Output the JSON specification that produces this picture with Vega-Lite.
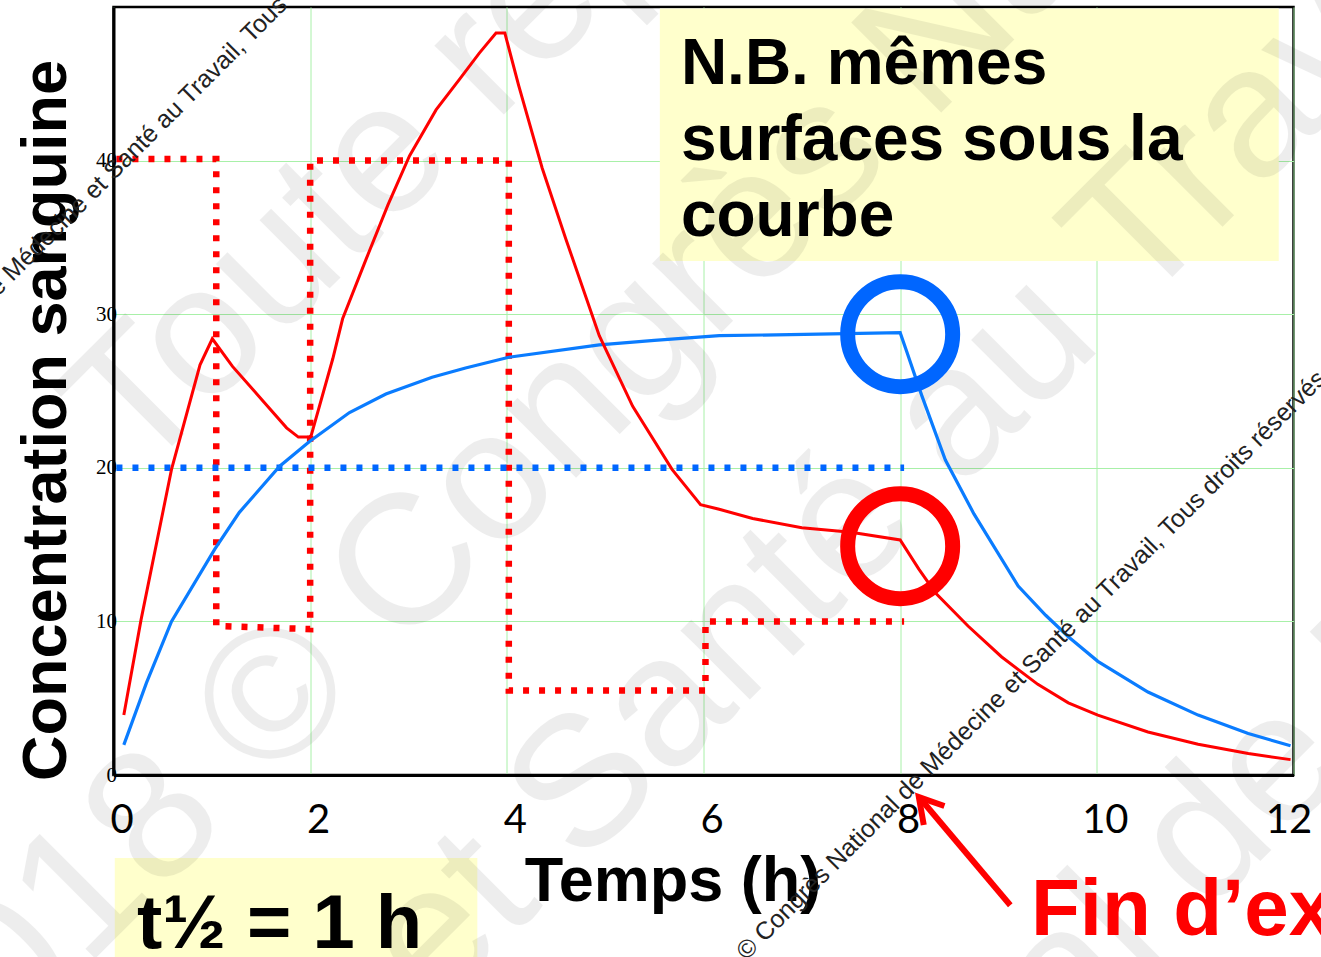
{
  "$schema": "https://vega.github.io/schema/vega-lite/v6.json",
  "width": 1180,
  "height": 768,
  "autosize": {"type": "none"},
  "padding": {"left": 113.5, "top": 7, "right": 27.5, "bottom": 182},
  "background": "white",
  "config": {
    "view": {"stroke": "#000", "strokeWidth": 2.5},
    "axis": {"gridColor": "#a8f0a8", "gridWidth": 1, "gridOpacity": 1, "domainColor": "#000", "domainWidth": 3, "ticks": false, "tickSize": 0}
  },
  "datasets": {
    "redCurve": [
      {"t": 0.105, "c": 3.9}, {"t": 0.28, "c": 10.1}, {"t": 0.59, "c": 19.9}, {"t": 0.88, "c": 26.7},
      {"t": 1.005, "c": 28.4}, {"t": 1.21, "c": 26.6}, {"t": 1.52, "c": 24.35}, {"t": 1.76, "c": 22.6},
      {"t": 1.88, "c": 22.0}, {"t": 1.99, "c": 22.0}, {"t": 2.01, "c": 22.1}, {"t": 2.23, "c": 27.1},
      {"t": 2.33, "c": 29.7}, {"t": 2.57, "c": 33.6}, {"t": 2.79, "c": 37.1}, {"t": 3.01, "c": 40.3},
      {"t": 3.28, "c": 43.3}, {"t": 3.52, "c": 45.3}, {"t": 3.72, "c": 47.0}, {"t": 3.89, "c": 48.3},
      {"t": 3.98, "c": 48.3}, {"t": 4.12, "c": 44.9}, {"t": 4.36, "c": 39.5}, {"t": 4.6, "c": 34.9},
      {"t": 4.94, "c": 28.6}, {"t": 5.28, "c": 24.0}, {"t": 5.68, "c": 19.9}, {"t": 5.97, "c": 17.6},
      {"t": 6.16, "c": 17.3}, {"t": 6.5, "c": 16.7}, {"t": 7.0, "c": 16.1}, {"t": 7.5, "c": 15.8},
      {"t": 8.0, "c": 15.3}, {"t": 8.19, "c": 13.4}, {"t": 8.36, "c": 11.85}, {"t": 8.69, "c": 9.7},
      {"t": 9.03, "c": 7.7}, {"t": 9.4, "c": 5.9}, {"t": 9.71, "c": 4.7}, {"t": 10.01, "c": 3.9},
      {"t": 10.52, "c": 2.8}, {"t": 11.03, "c": 2.0}, {"t": 11.54, "c": 1.4}, {"t": 11.97, "c": 1.0}
    ],
    "blueCurve": [
      {"t": 0.105, "c": 1.96}, {"t": 0.335, "c": 6.0}, {"t": 0.59, "c": 10.0}, {"t": 1.03, "c": 14.7},
      {"t": 1.28, "c": 17.1}, {"t": 1.69, "c": 20.1}, {"t": 1.99, "c": 21.7}, {"t": 2.4, "c": 23.6},
      {"t": 2.77, "c": 24.8}, {"t": 3.24, "c": 25.9}, {"t": 3.58, "c": 26.5}, {"t": 4.02, "c": 27.2},
      {"t": 4.94, "c": 28.0}, {"t": 5.5, "c": 28.3}, {"t": 6.16, "c": 28.6}, {"t": 7.17, "c": 28.7},
      {"t": 8.0, "c": 28.8}, {"t": 8.07, "c": 27.5}, {"t": 8.15, "c": 26.0}, {"t": 8.22, "c": 24.7},
      {"t": 8.46, "c": 20.5}, {"t": 8.75, "c": 17.0}, {"t": 9.2, "c": 12.3}, {"t": 9.48, "c": 10.4},
      {"t": 9.71, "c": 9.0}, {"t": 10.01, "c": 7.4},
      {"t": 10.52, "c": 5.4}, {"t": 11.03, "c": 3.9}, {"t": 11.54, "c": 2.7}, {"t": 11.97, "c": 1.9}
    ],
    "redDose": [
      {"o": 1, "t": 0.03, "c": 40.1}, {"o": 2, "t": 1.045, "c": 40.1}, {"o": 3, "t": 1.045, "c": 9.7},
      {"o": 4, "t": 2.0, "c": 9.5}, {"o": 5, "t": 2.0, "c": 40.0}, {"o": 6, "t": 4.02, "c": 40.0},
      {"o": 7, "t": 4.02, "c": 5.5}, {"o": 8, "t": 6.02, "c": 5.5}, {"o": 9, "t": 6.02, "c": 10.0},
      {"o": 10, "t": 8.04, "c": 10.0}
    ],
    "blueDose": [
      {"o": 1, "t": 0.03, "c": 20.0}, {"o": 2, "t": 8.04, "c": 20.0}
    ],
    "watermark": [
      {"t": -0.15, "c": 21.8, "label": "Toute reproduction interdite"},
      {"t": -2.17, "c": -19.5, "label": "2018 © Congrès National de Médecine"},
      {"t": 2.87, "c": -12.98, "label": "et Santé au Travail, Tous droits réservés"},
      {"t": 0.07, "c": -74.66, "label": "Congrès National de Médecine"}
    ]
  },
  "encoding": {
    "x": {
      "field": "t", "type": "quantitative",
      "scale": {"domain": [0, 12], "nice": false, "zero": false},
      "axis": {
        "values": [0, 2, 4, 6, 8, 10, 12],
        "grid": true,
        "labelFont": "Lato", "labelFontSize": 40, "labelColor": "#000",
        "labelPadding": 25,
        "labelOffset": {"condition": {"test": "datum.value == 12", "value": -5}, "value": 8},
        "labelFlush": false,
        "title": "Temps (h)", "titleFont": "Liberation Sans", "titleFontWeight": "bold",
        "titleFontSize": 63, "titleColor": "#000", "titlePadding": 10, "titleX": 559
      }
    },
    "y": {
      "field": "c", "type": "quantitative",
      "scale": {"domain": [0, 50], "nice": false, "zero": false},
      "axis": {
        "values": [0, 10, 20, 30, 40],
        "grid": true,
        "labelFont": "Liberation Serif", "labelFontSize": 21, "labelColor": "#000",
        "labelPadding": -3,
        "title": "Concentration sanguine", "titleFont": "Liberation Sans", "titleFontWeight": "bold",
        "titleFontSize": 63, "titleColor": "#000", "titlePadding": 17, "titleY": 413
      }
    }
  },
  "layer": [
    {
      "data": {"values": [{"t": 5.556, "t2": 11.85, "c": 49.9, "c2": 33.46}]},
      "mark": {"type": "rect", "color": "#ffffcc"},
      "encoding": {"x2": {"field": "t2"}, "y2": {"field": "c2"}}
    },
    {
      "data": {"values": [{"t": 0.013, "t2": 3.7, "c": -5.41, "c2": -11.9}]},
      "mark": {"type": "rect", "color": "#ffffcc", "clip": false},
      "encoding": {"x2": {"field": "t2"}, "y2": {"field": "c2"}}
    },
    {
      "data": {"name": "watermark"},
      "mark": {"type": "text", "font": "Liberation Sans", "fontSize": 185, "angle": -45, "align": "left", "baseline": "middle", "color": "#000", "opacity": 0.065, "clip": false},
      "encoding": {"text": {"field": "label"}}
    },
    {
      "data": {"name": "redDose"},
      "mark": {"type": "line", "color": "#ff0000", "strokeWidth": 6.5, "strokeDash": [6, 10], "strokeCap": "butt"},
      "encoding": {"order": {"field": "o"}}
    },
    {
      "data": {"name": "blueDose"},
      "mark": {"type": "line", "color": "#0066ff", "strokeWidth": 6.5, "strokeDash": [6, 10], "strokeCap": "butt"},
      "encoding": {"order": {"field": "o"}}
    },
    {
      "data": {"name": "blueCurve"},
      "mark": {"type": "line", "color": "#0a7cff", "strokeWidth": 3.2}
    },
    {
      "data": {"name": "redCurve"},
      "mark": {"type": "line", "color": "#ff0000", "strokeWidth": 3}
    },
    {
      "data": {"values": [{"t": 8.0, "c": 28.7, "k": "blue"}]},
      "mark": {"type": "point", "shape": "circle", "filled": false, "size": 11025, "strokeWidth": 15, "color": "#0066ff", "opacity": 1}
    },
    {
      "data": {"values": [{"t": 8.0, "c": 14.9, "k": "red"}]},
      "mark": {"type": "point", "shape": "circle", "filled": false, "size": 11025, "strokeWidth": 15, "color": "#ff0000", "opacity": 1}
    },
    {
      "data": {"values": [{"t": 5.77, "c": 45.0, "label": "N.B. mêmes\nsurfaces sous la\ncourbe"}]},
      "mark": {"type": "text", "font": "Liberation Sans", "fontWeight": "bold", "fontSize": 64, "align": "left", "baseline": "alphabetic", "lineBreak": "\n", "lineHeight": 76, "color": "#000"},
      "encoding": {"text": {"field": "label"}}
    },
    {
      "data": {"values": [{"t": 0.24, "c": -11.29, "label": "t½ = 1 h"}]},
      "mark": {"type": "text", "font": "Liberation Sans", "fontWeight": "bold", "fontSize": 76, "align": "left", "baseline": "alphabetic", "color": "#000", "clip": false},
      "encoding": {"text": {"field": "label"}}
    },
    {
      "data": {"values": [
        {"g": "shaft", "o": 1, "t": 9.12, "c": -8.48}, {"g": "shaft", "o": 2, "t": 8.2, "c": -1.5},
        {"g": "head", "o": 1, "t": 8.45, "c": -2.02}, {"g": "head", "o": 2, "t": 8.19, "c": -1.44}, {"g": "head", "o": 3, "t": 8.24, "c": -3.26}
      ]},
      "mark": {"type": "line", "color": "#ff0000", "strokeWidth": 6, "clip": false, "strokeJoin": "miter"},
      "encoding": {"detail": {"field": "g"}, "order": {"field": "o"}}
    },
    {
      "data": {"values": [{"t": 9.33, "c": -10.44, "label": "Fin d’exposition"}]},
      "mark": {"type": "text", "font": "Liberation Sans", "fontWeight": "bold", "fontSize": 80, "align": "left", "baseline": "alphabetic", "color": "#ff0000", "clip": false},
      "encoding": {"text": {"field": "label"}}
    },
    {
      "data": {"values": [
        {"t": 6.38, "c": -11.74, "label": "© Congrès National de Médecine et Santé au Travail, Tous droits réservés"}
      ]},
      "mark": {"type": "text", "font": "Liberation Sans", "fontSize": 25, "angle": -45, "align": "left", "baseline": "middle", "color": "#222", "clip": false},
      "encoding": {"text": {"field": "label"}}
    },
    {
      "data": {"values": [
        {"t": 1.72, "c": 50.4, "label": "© Congrès National de Médecine et Santé au Travail, Tous"}
      ]},
      "mark": {"type": "text", "font": "Liberation Sans", "fontSize": 25, "angle": -45, "align": "right", "baseline": "middle", "color": "#222", "clip": false},
      "encoding": {"text": {"field": "label"}}
    }
  ]
}
